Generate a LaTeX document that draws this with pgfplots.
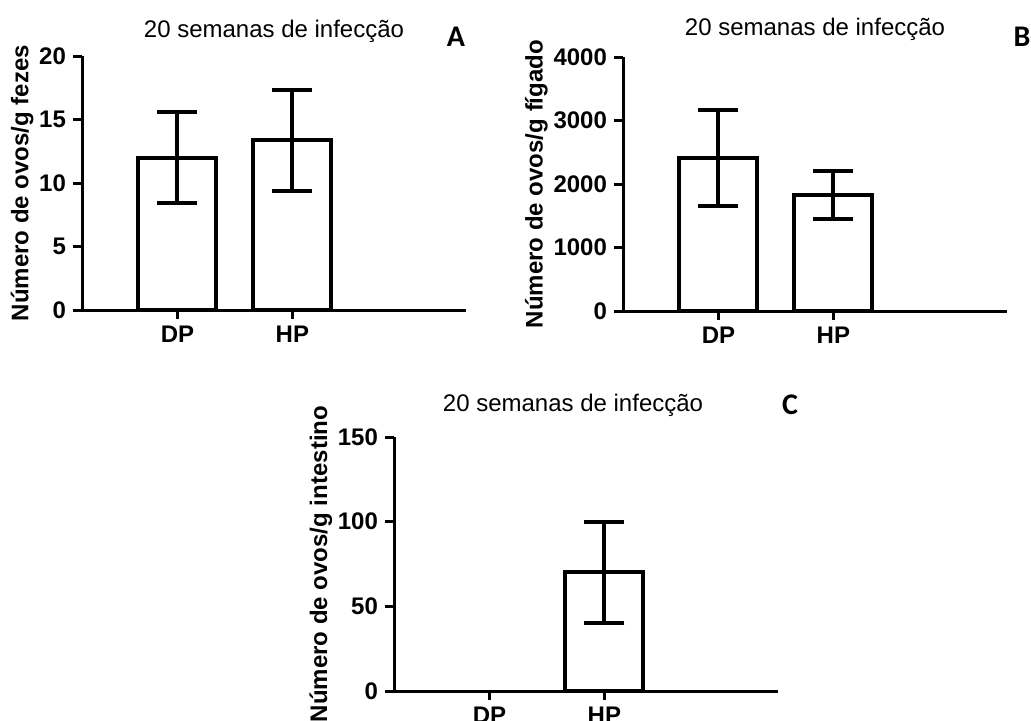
\documentclass[border=0pt]{standalone}
\usepackage{fontspec}
\setmainfont{Liberation Sans}
\newfontfamily\panelfont{Carlito}
\usepackage{pgfplots}
\pgfplotsset{compat=1.18}

% estilo comum dos tres paineis (estilo GraphPad)
\pgfplotsset{
  ovos/.style={
    scale only axis,
    width=192pt, height=127pt,
    axis lines=left,
    axis line style={-, line width=1.5pt},
    xmin=-0.83, xmax=2.51, ymin=0,
    xtick={0,1}, xticklabels={DP,HP},
    tick align=outside,
    major tick length=4.5pt,
    tick style={line width=1.5pt, black},
    ticklabel style={font=\bfseries\fontsize{12}{14}\selectfont},
    /pgf/number format/assume math mode=true,
    ylabel style={font=\bfseries\fontsize{12}{14}\selectfont},
    ylabel shift=-4pt,
    title style={font=\fontsize{12}{14}\selectfont, at={(0.5,1)}, anchor=south, yshift=-3pt},
    title={20 semanas de infecção},
    ybar, bar width=39pt,
    scaled y ticks=false,
    yticklabel style={/pgf/number format/1000 sep={}},
  },
  barra/.style={draw=black, fill=white, line width=2pt,
    error bars/.cd, y dir=both, y explicit,
    error bar style={line width=2pt},
    error mark=|,
    error mark options={line width=2pt, mark size=10pt}},
}

\begin{document}
\begin{tikzpicture}
\useasboundingbox (0,0) rectangle (515.5pt,360pt);

% A - fezes
\begin{axis}[ovos, at={(41pt,205pt)}, anchor=south west,
  ymax=20, ytick={0,5,10,15,20},
  ylabel={Número de ovos/g fezes}]
\addplot[barra] coordinates {(0,12.0) +- (0,3.6) (1,13.35) +- (0,3.95)};
\end{axis}

% B - figado
\begin{axis}[ovos, at={(311.5pt,204.5pt)}, anchor=south west,
  ymax=4000, ytick={0,1000,2000,3000,4000},
  title style={yshift=1.5pt},
  ylabel={Número de ovos/g fígado}]
\addplot[barra] coordinates {(0,2410) +- (0,760) (1,1820) +- (0,377)};
\end{axis}

% C - intestino
\begin{axis}[ovos, at={(197pt,14.5pt)}, anchor=south west,
  ymax=150, ytick={0,50,100,150},
  title style={xshift=-6.5pt, yshift=3.5pt},
  ylabel={Número de ovos/g intestino}]
\addplot[barra] coordinates {(1,70) +- (0,30)};
\end{axis}

\node[font=\panelfont\bfseries\fontsize{15}{18}\selectfont] at (228pt,341.5pt) {A};
\node[font=\panelfont\bfseries\fontsize{15}{18}\selectfont] at (511pt,341.5pt) {B};
\node[font=\panelfont\bfseries\fontsize{15}{18}\selectfont] at (395pt,157.5pt) {C};
\end{tikzpicture}
\end{document}
